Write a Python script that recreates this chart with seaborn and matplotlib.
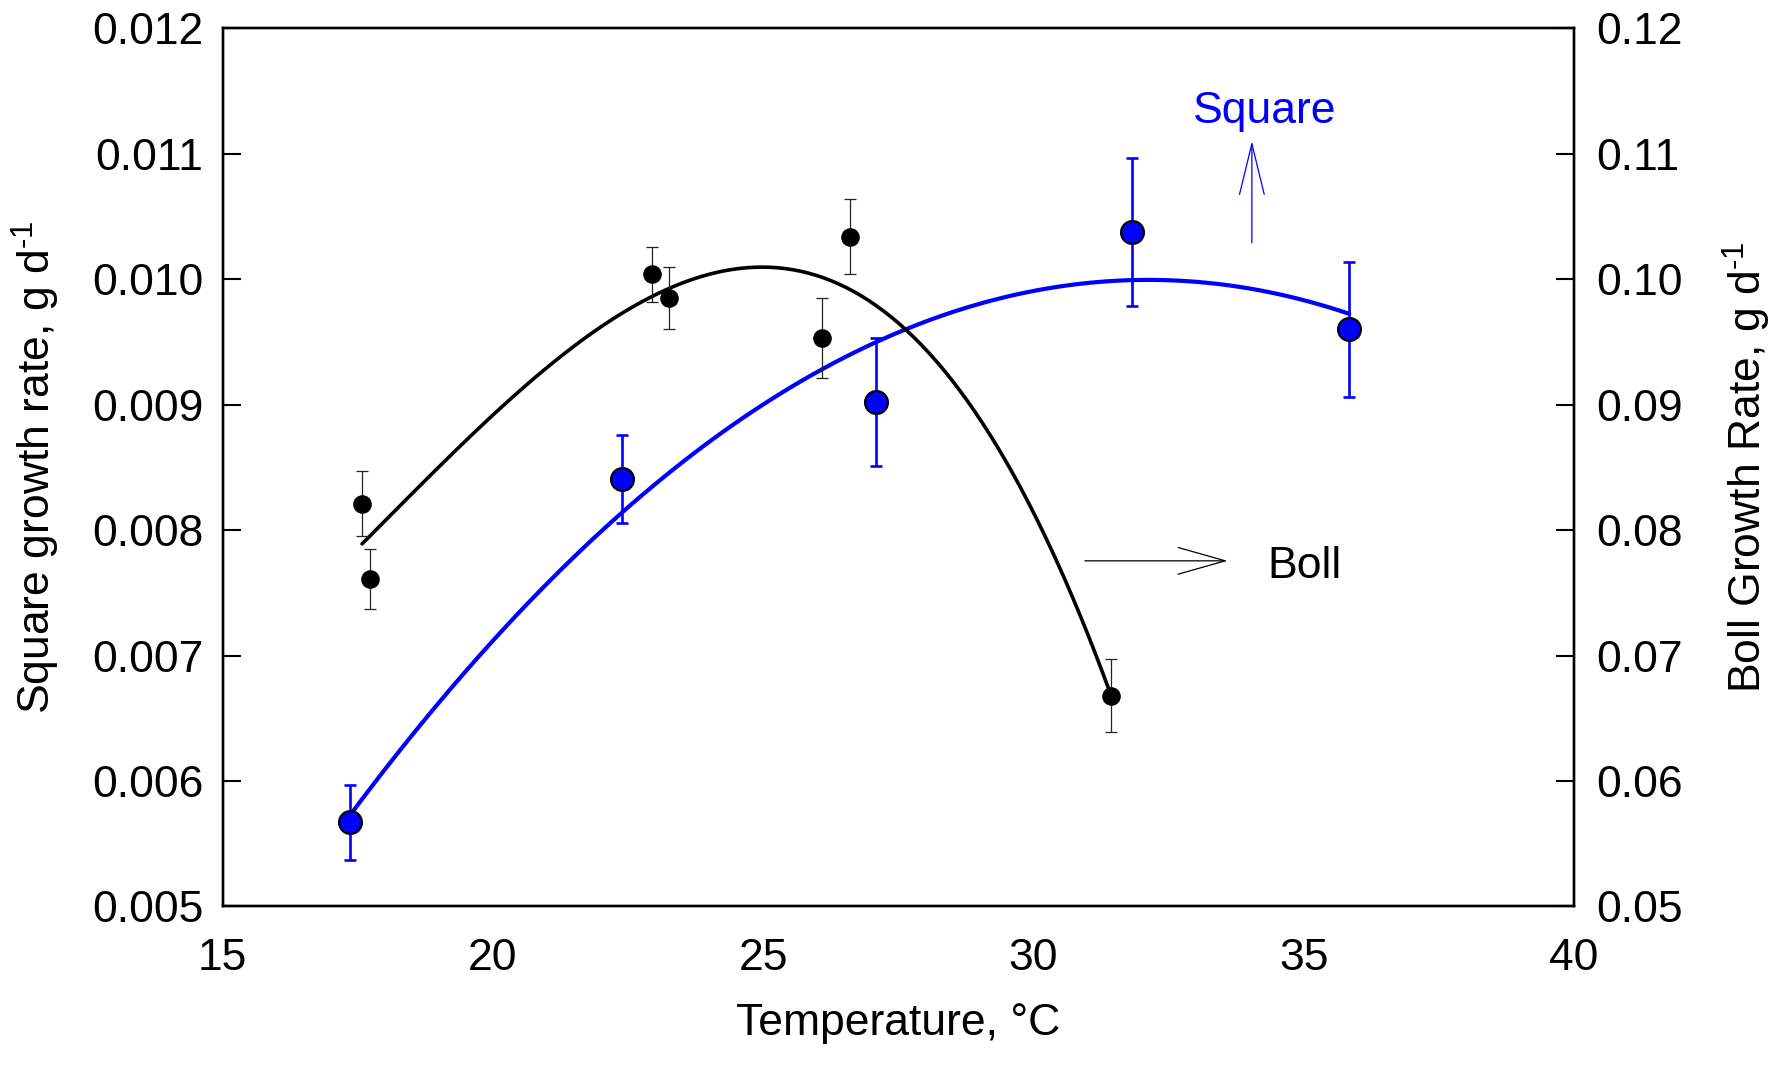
import numpy as np
import pandas as pd
import matplotlib
matplotlib.use("Agg")
import matplotlib.pyplot as plt
import matplotlib.font_manager as fm
import seaborn as sns

# ---------------- data ----------------
square_temp = [17.35, 22.39, 27.08, 31.83, 35.84]
square_rate = [0.00567, 0.00841, 0.00902, 0.01038, 0.00960]
square_err = [0.00030, 0.00035, 0.00051, 0.00059, 0.00054]

boll_temp = [17.58, 17.73, 22.94, 23.26, 26.09, 26.60, 31.43]
boll_rate = [0.0821, 0.0761, 0.1004, 0.0985, 0.0953, 0.1034, 0.0668]
boll_err = [0.0026, 0.0024, 0.0022, 0.0025, 0.0032, 0.0030, 0.0029]

x_ticks = [15, 20, 25, 30, 35, 40]
left_ticks = [0.005, 0.006, 0.007, 0.008, 0.009, 0.010, 0.011, 0.012]
right_ticks = [0.05, 0.06, 0.07, 0.08, 0.09, 0.10, 0.11, 0.12]

# ---------------- style ----------------
sns.set_style("white")
names = {f.name for f in fm.fontManager.ttflist}
base_font = "Liberation Sans" if "Liberation Sans" in names else "DejaVu Sans"
if "Liberation Sans Narrow" in names:
    tick_font, tick_size, xlab_size = "Liberation Sans Narrow", 40, 39
else:
    tick_font, tick_size, xlab_size = base_font, 32, 32
plt.rcParams["font.family"] = [base_font, "DejaVu Sans"]
plt.rcParams["mathtext.default"] = "regular"
for key in ("text.color", "axes.labelcolor", "xtick.color", "ytick.color",
            "axes.edgecolor"):
    plt.rcParams[key] = "black"

fig = plt.figure(figsize=(17.81, 10.65), dpi=100)
ax = fig.add_axes([0.1250, 0.1489, 0.7588, 0.8244])
ax2 = ax.twinx()

sq = pd.DataFrame({"temp": square_temp, "rate": square_rate, "err": square_err})
bo = pd.DataFrame({"temp": boll_temp, "rate": boll_rate, "err": boll_err})

# Square (left axis, blue)
sns.regplot(data=sq, x="temp", y="rate", order=2, ci=None, scatter=False,
            truncate=True, line_kws=dict(color="#0000FF", lw=3.0), ax=ax)
ax.errorbar(sq["temp"], sq["rate"], yerr=sq["err"], fmt="none",
            ecolor="#0000FF", elinewidth=1.9, capsize=4, capthick=1.9, zorder=3)
sns.scatterplot(data=sq, x="temp", y="rate", s=270, color="#0000FF",
                edgecolor="black", linewidth=1.6, ax=ax, zorder=4, legend=False)

# Boll (right axis, black)
sns.regplot(data=bo, x="temp", y="rate", order=3, ci=None, scatter=False,
            truncate=True, line_kws=dict(color="black", lw=2.6), ax=ax2)
ax2.errorbar(bo["temp"], bo["rate"], yerr=bo["err"], fmt="none",
             ecolor="#222222", elinewidth=0.9, capsize=4.3, capthick=0.9, zorder=3)
sns.scatterplot(data=bo, x="temp", y="rate", s=180, color="black",
                edgecolor="black", linewidth=0, ax=ax2, zorder=4, legend=False)

# axes limits / ticks
ax.set_xlim(15, 40)
ax.set_ylim(0.005, 0.012)
ax2.set_ylim(0.05, 0.12)
ax.set_xticks(x_ticks)
ax.set_xticklabels([str(v) for v in x_ticks], fontfamily=tick_font, fontsize=tick_size)
ax.set_yticks(left_ticks)
ax.set_yticklabels([f"{v:.3f}" for v in left_ticks], fontfamily=tick_font, fontsize=tick_size)
ax2.set_yticks(right_ticks)
ax2.set_yticklabels([f"{v:.2f}" for v in right_ticks], fontfamily=tick_font, fontsize=tick_size)

ax.tick_params(axis="x", direction="in", length=13, width=1.5, pad=23, top=False)
ax.tick_params(axis="y", direction="in", length=13, width=1.5, pad=14, right=False)
ax2.tick_params(axis="y", direction="in", length=13, width=1.5, pad=16)
for a in (ax, ax2):
    for s in a.spines.values():
        s.set_linewidth(1.7)
        s.set_color("black")

ax.set_xlabel("Temperature, °C", fontfamily=tick_font, fontsize=xlab_size, labelpad=17)
ax.set_ylabel("Square growth rate, g d$^{\u2010 1}$", fontsize=32)
ax2.set_ylabel("Boll Growth Rate, g d$^{\u2010 1}$", fontsize=32)
ax.yaxis.set_label_coords(-0.119, 0.5)
ax2.yaxis.set_label_coords(1.1088, 0.5)

# annotations
ax.annotate("", xy=(34.04, 0.011102), xytext=(34.04, 0.010291),
            arrowprops=dict(arrowstyle="->,head_length=3.65,head_width=0.89",
                            color="#0000FF", lw=0.9, mutation_scale=10,
                            shrinkA=0, shrinkB=0))
ax.text(34.28, 0.011243, "Square", color="#0000FF", fontsize=32,
        ha="center", va="baseline")
ax2.annotate("", xy=(33.59, 0.077553), xytext=(30.95, 0.077553),
             arrowprops=dict(arrowstyle="->,head_length=3.39,head_width=0.96",
                             color="black", lw=0.9, mutation_scale=10,
                             shrinkA=0, shrinkB=0))
ax2.text(35.02, 0.07618, "Boll", color="black", fontsize=32,
         ha="center", va="baseline")

ax.grid(False)
ax2.grid(False)
fig.savefig("out.png", dpi=100, facecolor="white")
